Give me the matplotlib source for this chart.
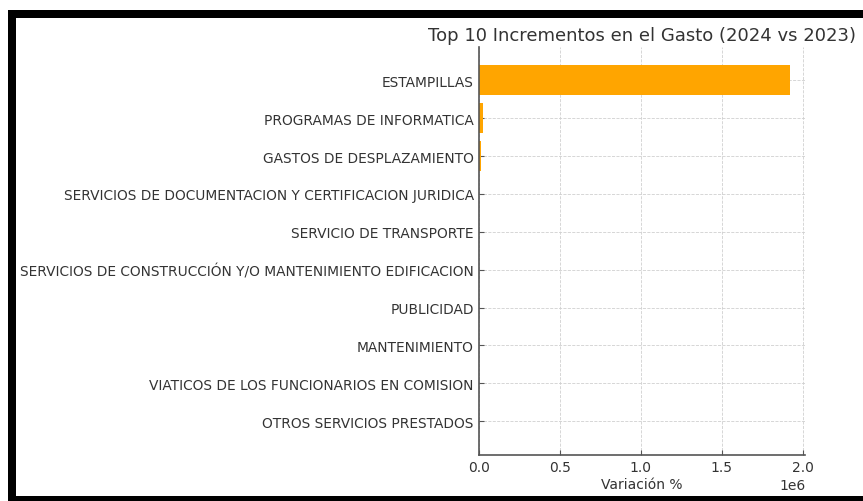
import matplotlib
matplotlib.use("Agg")
import matplotlib.pyplot as plt
from matplotlib.patches import Rectangle

categories = [
    "ESTAMPILLAS",
    "PROGRAMAS DE INFORMATICA",
    "GASTOS DE DESPLAZAMIENTO",
    "SERVICIOS DE DOCUMENTACION Y CERTIFICACION JURIDICA",
    "SERVICIO DE TRANSPORTE",
    "SERVICIOS DE CONSTRUCCIÓN Y/O MANTENIMIENTO EDIFICACION",
    "PUBLICIDAD",
    "MANTENIMIENTO",
    "VIATICOS DE LOS FUNCIONARIOS EN COMISION",
    "OTROS SERVICIOS PRESTADOS",
]
values = [1920000, 25000, 13000, 3000, 2500, 2000, 1500, 1200, 1000, 800]

title = "Top 10 Incrementos en el Gasto (2024 vs 2023)"
xlabel = "Variación %"

W, H = 863, 502
fig = plt.figure(figsize=(W / 100, H / 100), dpi=100)
fig.patch.set_facecolor("white")

# screenshot frame (black border)
def px_rect(x0, y0, x1, y1, color):
    fig.add_artist(Rectangle((x0 / W, 1 - y1 / H), (x1 - x0) / W, (y1 - y0) / H,
                             transform=fig.transFigure, facecolor=color,
                             edgecolor="none", zorder=10))

px_rect(8, 11, 863, 19, "black")
px_rect(8, 11, 16, 502, "black")
px_rect(8, 497, 863, 502, "black")

left, right = 478.7, 805.3
top, bottom = 47.5, 456.0
ax = fig.add_axes([left / W, 1 - bottom / H, (right - left) / W, (bottom - top) / H])

ax.barh(categories, values, color="orange", height=0.8, zorder=2)
ax.invert_yaxis()
ax.set_xlim(0, max(values) * 1.05)

ax.set_title(title, fontsize=13, color="#333333", pad=5)
ax.set_xlabel(xlabel, fontsize=10, color="#333333", labelpad=2)
ax.grid(True, linestyle="--", linewidth=0.6, color="#d0d0d0", zorder=0)
ax.set_axisbelow(True)
for s in ["top", "right"]:
    ax.spines[s].set_visible(False)
for s in ["left", "bottom"]:
    ax.spines[s].set_color("#555555")
    ax.spines[s].set_linewidth(1.2)
ax.tick_params(axis="both", colors="#555555", labelcolor="#333333",
               direction="in", length=3.5)
ax.tick_params(axis="x", labelsize=10)
ax.tick_params(axis="y", labelsize=9.9)
ax.xaxis.get_offset_text().set_fontsize(10)
ax.xaxis.get_offset_text().set_color("#333333")

fig.savefig("out.png", dpi=100)
